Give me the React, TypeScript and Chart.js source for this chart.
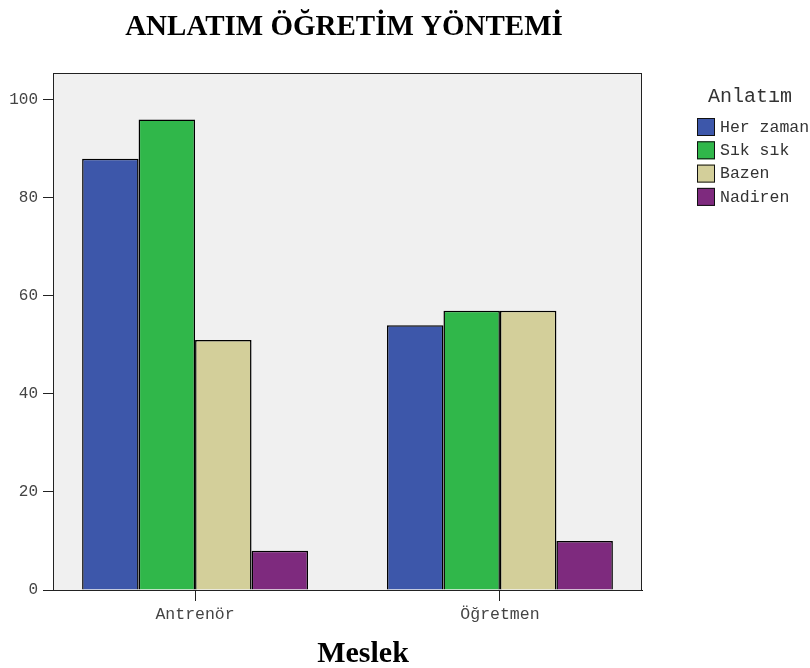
import React, { useEffect, useRef } from "react";
import { Chart, registerables } from "chart.js";

Chart.register(...registerables);

const chartTitle = "ANLATIM ÖĞRETİM YÖNTEMİ";
const xTitle = "Meslek";
const legendTitle = "Anlatım";
const categories = ["Antrenör", "Öğretmen"];
const seriesNames = ["Her zaman", "Sık sık", "Bazen", "Nadiren"];
const herZaman = [88, 54];
const sikSik = [96, 57];
const bazen = [51, 57];
const nadiren = [8, 10];
const seriesColors = ["#3D57AA", "#30B74A", "#D3CF9A", "#7E2A7E"];
const yTicks = [0, 20, 40, 60, 80, 100];

const MONO = "'Liberation Mono', 'Courier New', monospace";
const SERIF = "'Liberation Serif', 'Times New Roman', serif";

const decorPlugin = {
  id: "decor",
  beforeDraw(chart: any) {
    const { ctx, chartArea: a } = chart;
    ctx.save();
    ctx.fillStyle = "#ffffff";
    ctx.fillRect(0, 0, chart.width, chart.height);
    ctx.fillStyle = "#F0F0F0";
    ctx.fillRect(a.left, a.top, a.right - a.left, a.bottom - a.top);
    ctx.restore();
  },
  afterDraw(chart: any) {
    const { ctx, chartArea: a } = chart;
    ctx.save();
    // frame
    ctx.strokeStyle = "#222";
    ctx.lineWidth = 1;
    ctx.strokeRect(a.left + 0.5, a.top + 0.5, a.right - a.left - 1, a.bottom - a.top);
    // title
    ctx.fillStyle = "#000";
    ctx.font = `bold 29px ${SERIF}`;
    ctx.textAlign = "center";
    ctx.textBaseline = "alphabetic";
    ctx.fillText(chartTitle, 344, 35);
    // x axis title
    ctx.font = `bold 30px ${SERIF}`;
    ctx.fillText(xTitle, 363, 662);
    // legend
    ctx.textAlign = "left";
    ctx.textBaseline = "middle";
    ctx.fillStyle = "#333";
    ctx.font = `20px ${MONO}`;
    ctx.fillText(legendTitle, 708, 97);
    ctx.font = `16.5px ${MONO}`;
    chart.data.datasets.forEach((ds: any, i: number) => {
      const y = 118 + i * 23.3;
      ctx.fillStyle = ds.backgroundColor;
      ctx.fillRect(697, y, 18, 18);
      ctx.strokeStyle = "#111";
      ctx.lineWidth = 1;
      ctx.strokeRect(697.5, y + 0.5, 17, 17);
      ctx.fillStyle = "#333";
      ctx.fillText(ds.label, 720, y + 9.5);
    });
    ctx.restore();
  },
};

export default function App() {
  const ref = useRef<HTMLCanvasElement>(null);
  useEffect(() => {
    document.body.style.margin = "0";
    const values = [herZaman, sikSik, bazen, nadiren];
    const chart = new Chart(ref.current!, {
      type: "bar",
      data: {
        datasets: seriesNames.map((name, s) => ({
          label: name,
          data: values[s].map((v, i) => ({ x: i, y: v })),
          backgroundColor: seriesColors[s],
          borderColor: "#000",
          borderWidth: 1.5,
          categoryPercentage: 0.741,
          barPercentage: 1,
        })),
      },
      options: {
        animation: false,
        responsive: false,
        layout: { padding: { top: 73, right: 168, left: 0, bottom: 0 } },
        plugins: { legend: { display: false }, title: { display: false }, tooltip: { enabled: false } },
        scales: {
          x: {
            type: "linear",
            offset: false,
            min: -0.466,
            max: 1.466,
            afterBuildTicks: (scale: any) => {
              scale.ticks = categories.map((_, i) => ({ value: i }));
            },
            afterFit: (scale: any) => {
              scale.height = 78;
            },
            grid: { offset: false, drawOnChartArea: false, drawTicks: true, tickLength: 11, color: "#222" },
            border: { display: true, color: "#111", width: 1 },
            ticks: {
              callback: (v: any) => categories[v] ?? "",
              font: { family: MONO, size: 16.5 },
              color: "#444",
              padding: 4,
              maxRotation: 0,
            },
          },
          y: {
            min: 0,
            max: 105.5,
            afterBuildTicks: (scale: any) => {
              scale.ticks = yTicks.map((v) => ({ value: v }));
            },
            afterFit: (scale: any) => {
              scale.width = 53;
            },
            grid: { drawOnChartArea: false, drawTicks: true, tickLength: 10, color: "#222" },
            border: { display: true, color: "#111", width: 1 },
            ticks: {
              font: { family: MONO, size: 16 },
              color: "#444",
              padding: 5,
            },
          },
        },
      },
      plugins: [decorPlugin],
    } as any);
    return () => chart.destroy();
  }, []);
  return <canvas ref={ref} width={810} height={668} style={{ display: "block" }} />;
}
